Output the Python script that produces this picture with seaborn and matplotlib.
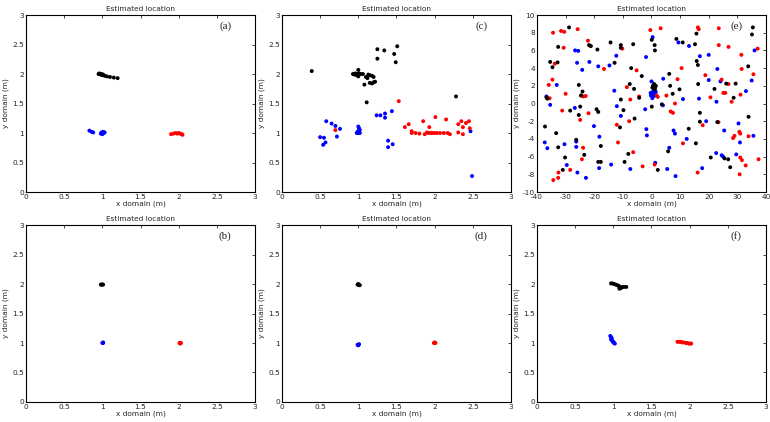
import pandas as pd
import matplotlib
matplotlib.use("Agg")
import matplotlib.pyplot as plt
import seaborn as sns
from matplotlib.ticker import FormatStrFormatter

sns.set_style("white")

# ---- data (x, y) in metres ----
a_black = [(0.95, 2.0), (0.96, 2.01), (0.97, 2.0), (0.98, 1.99), (0.99, 2.0), (1.0, 1.98),
           (1.01, 1.99), (1.03, 1.97), (1.06, 1.96), (1.1, 1.95), (1.15, 1.94), (1.2, 1.93)]
a_blue = [(0.83, 1.04), (0.86, 1.02), (0.88, 1.01), (0.98, 0.99), (0.99, 1.01), (1.0, 1.0),
          (1.01, 1.02), (1.02, 1.0), (1.0, 0.98), (1.03, 1.01)]
a_red = [(1.9, 0.98), (1.93, 0.99), (1.96, 1.0), (1.98, 0.99), (2.0, 1.0), (2.02, 0.99),
         (2.04, 0.98), (2.05, 0.97)]

b_black = [(0.98, 1.99), (0.99, 1.99), (1.0, 1.99), (1.01, 1.99)]
b_blue = [(1.0, 1.0), (1.01, 1.0), (1.01, 1.01)]
b_red = [(2.01, 1.0), (2.02, 1.0), (2.03, 1.0), (2.02, 0.99)]

c_black = [(0.39, 2.05), (0.93, 2.0), (0.95, 1.99), (0.96, 2.01), (0.97, 2.0), (0.98, 1.98),
           (0.99, 2.0), (1.0, 2.07), (1.0, 1.96), (1.01, 2.01), (1.03, 2.0), (1.06, 2.0),
           (1.1, 1.95), (1.12, 1.93), (1.13, 1.99), (1.15, 1.98), (1.18, 1.97), (1.2, 1.95),
           (1.08, 1.82), (1.15, 1.85), (1.18, 1.84), (1.2, 1.86), (1.22, 1.87), (1.11, 1.52),
           (1.25, 2.42), (1.25, 2.26), (1.34, 2.4), (1.47, 2.34), (1.49, 2.2), (1.51, 2.47),
           (2.28, 1.62)]
c_blue = [(0.5, 0.93), (0.55, 0.92), (0.57, 0.84), (0.54, 0.8), (0.58, 1.2), (0.65, 1.16),
          (0.7, 1.12), (0.76, 1.07), (0.72, 0.94), (1.0, 1.11), (1.01, 1.08), (1.02, 1.05),
          (0.99, 1.02), (0.98, 1.0), (1.0, 1.0), (1.02, 1.0), (1.0, 1.03), (1.24, 1.3),
          (1.29, 1.3), (1.35, 1.33), (1.35, 1.26), (1.44, 1.37), (1.39, 0.87), (1.39, 0.76),
          (1.45, 0.81), (2.47, 1.03), (2.49, 0.27)]
c_red = [(0.7, 1.05), (1.53, 1.54), (1.61, 1.1), (1.66, 1.15), (1.7, 1.03), (1.7, 1.0),
         (1.75, 1.0), (1.8, 0.99), (1.85, 1.2), (1.87, 0.98), (1.9, 1.01), (1.92, 1.0),
         (1.93, 1.1), (1.95, 1.0), (1.97, 1.0), (2.0, 1.0), (2.01, 1.27), (2.03, 1.0),
         (2.07, 1.0), (2.12, 1.0), (2.15, 1.23), (2.17, 1.0), (2.2, 0.98), (2.31, 1.15),
         (2.31, 1.01), (2.35, 1.2), (2.37, 1.1), (2.37, 0.98), (2.41, 1.17), (2.45, 1.2),
         (2.46, 1.08)]

d_black = [(0.99, 1.99), (1.0, 1.99), (1.01, 1.98), (1.02, 1.98), (1.0, 2.0)]
d_blue = [(0.99, 0.97), (1.0, 0.97), (1.01, 0.98), (1.0, 0.96)]
d_red = [(1.99, 1.0), (2.0, 1.0), (2.01, 1.0), (2.0, 1.01)]

e_black = [(-28.8, 8.6), (-32.6, 6.4), (-21.8, 6.6), (-21.2, 6.5), (-18.9, 6.1), (-14.3, 6.9),
           (-10.7, 6.6), (-10.7, 6.3), (-6.4, 6.7), (0.1, 7.2), (1.1, 6.6), (1.2, 6.0),
           (8.7, 7.3), (10.9, 6.9), (15.2, 6.7), (15.7, 7.9), (35.1, 7.8), (35.4, 8.6),
           (-35.4, 4.7), (-34.6, 4.1), (-32.8, 4.65), (-12.9, 4.6), (-7.1, 4.0), (-3.4, 3.1),
           (15.8, 4.8), (16.2, 4.35), (33.8, 4.2), (-36.7, 0.7), (-36.4, 0.55), (-25.4, 2.1),
           (-24.1, 1.35), (-24.6, 0.9), (-28.4, -0.8), (-24.9, -0.35), (-25.4, -1.3),
           (-19.2, -0.65), (-18.6, -0.95), (-10.7, 0.45), (-9.8, -0.75), (-7.6, 2.2),
           (-6.1, 1.65), (-4.3, 0.65), (-5.9, -1.7), (-11.0, -2.7), (0.1, -0.35),
           (6.2, 3.35), (6.5, 2.0), (7.4, 1.1), (9.8, 1.6), (3.6, -0.1), (16.3, 2.2),
           (22.0, 1.65), (26.1, 2.25), (29.4, 2.25), (28.7, 0.65), (33.9, -1.5), (16.9, -1.05),
           (16.9, -2.05), (23.0, -2.1), (13.0, -2.85), (15.5, -4.5), (5.8, -5.4),
           (-37.2, -2.6), (-33.3, -3.35), (-32.6, -4.95), (-30.2, -6.1), (-31.0, -7.5),
           (-23.5, -5.8), (-26.3, -4.1), (-17.7, -4.8), (-18.6, -6.6), (-17.7, -6.6),
           (-9.4, -6.6), (-8.1, -5.7), (2.2, -7.5), (20.7, -6.1), (25.5, -6.2), (26.8, -6.3),
           (27.5, -7.2), (0.5, 2.0), (1.0, 2.1), (1.3, 1.9), (0.8, 1.7), (1.5, 2.0),
           (1.2, 1.6), (0.9, 2.2), (0.3, 1.8), (1.1, 1.8)]
e_blue = [(0.4, 7.5), (9.4, 6.9), (13.1, 6.5), (20.0, 5.5), (16.9, 5.35), (36.0, 6.0),
          (-26.7, 6.0), (-25.6, 5.95), (-26.0, 4.6), (-21.7, 4.7), (-24.2, 3.8), (-18.6, 4.2),
          (-14.7, 4.3), (-12.3, 5.4), (-1.9, 5.25), (4.1, 2.8), (23.0, 3.9), (24.1, 2.5),
          (20.0, 2.65), (35.0, 2.6), (33.0, 1.4), (16.6, 0.55), (11.0, 0.5), (22.7, 0.2),
          (4.0, -0.2), (-33.1, 2.1), (-36.7, 0.8), (-35.4, -0.15), (-26.8, -0.5),
          (-13.0, 1.45), (-12.1, -0.3), (-10.7, -1.4), (-2.2, -0.65), (-1.8, -2.9),
          (-1.6, -3.6), (-20.1, -2.55), (-18.2, -3.75), (-30.4, -4.6), (-37.3, -4.4),
          (-36.4, -5.05), (-26.3, -4.3), (-26.3, -4.9), (-29.6, -6.95), (-25.9, -7.8),
          (-22.9, -8.4), (-18.3, -7.3), (-14.1, -6.9), (-7.4, -7.4), (1.3, -6.7),
          (5.5, -7.4), (8.4, -8.2), (12.3, -4.0), (7.7, -3.05), (8.2, -3.4), (6.2, -5.0),
          (19.1, -2.0), (17.7, -7.3), (22.6, -5.6), (24.5, -5.85), (25.0, -6.0),
          (25.4, -3.05), (29.6, -5.75), (30.4, -2.25), (30.9, -4.4), (35.6, -3.65),
          (0.0, 2.5), (0.0, 1.0), (0.5, 0.8), (-0.3, 1.2), (0.8, 1.1), (1.2, 0.9),
          (0.3, 0.6), (-0.2, 0.9), (1.5, 1.3), (0.6, 1.4)]
e_red = [(-34.4, 8.0), (-31.6, 8.2), (-30.5, 8.1), (-25.8, 8.4), (-22.2, 7.1), (-21.3, 6.5),
         (-30.7, 6.3), (-10.2, 6.2), (-0.4, 8.3), (3.2, 8.5), (16.2, 8.6), (16.5, 8.4),
         (23.5, 8.5), (23.5, 6.6), (26.9, 6.4), (31.4, 5.5), (37.1, 6.2), (31.5, 3.9),
         (35.6, 3.3), (-33.8, 4.5), (-34.6, 2.7), (-35.9, 2.1), (-35.6, 0.6), (-30.0, 1.1),
         (-31.2, -0.8), (-24.6, 0.9), (-23.8, 0.8), (-23.0, 0.85), (-22.0, -1.1),
         (-24.9, -1.85), (-16.6, 3.9), (-8.6, 1.85), (-5.2, 3.75), (-7.4, 0.45), (-7.8, -2.0),
         (-4.3, 0.8), (1.8, 0.9), (2.2, 0.75), (5.2, 0.9), (10.5, 4.0), (9.1, 2.75),
         (8.2, 0.0), (6.7, -0.9), (7.5, -1.05), (11.0, -4.5), (17.9, -2.45), (18.8, 3.2),
         (20.6, 0.7), (24.5, 2.7), (25.1, 1.2), (25.8, 1.2), (26.9, 2.2), (28.0, 0.2),
         (29.0, -3.65), (28.5, -3.9), (30.7, -3.2), (31.0, -3.4), (33.9, -3.7), (31.0, -6.1),
         (31.6, -6.4), (32.9, -7.0), (30.8, -8.0), (37.4, -6.3), (31.1, 1.0),
         (-34.3, -8.65), (-32.6, -8.4), (-32.5, -7.8), (-28.4, -7.5), (-24.3, -6.3),
         (-23.9, -5.0), (-11.7, -4.4), (-6.4, -5.5), (-3.1, -7.1), (1.1, -6.9),
         (-12.1, -2.4), (16.1, -7.8), (23.4, -2.1)]

f_black = [(0.97, 2.01), (0.99, 2.01), (1.01, 2.0), (1.03, 1.99), (1.05, 1.98), (1.07, 1.97),
           (1.08, 1.95), (1.08, 1.92), (1.1, 1.94), (1.12, 1.95), (1.14, 1.95), (1.17, 1.95),
           (1.1, 1.93)]
f_blue = [(0.96, 1.12), (0.97, 1.1), (0.98, 1.08), (0.98, 1.05), (0.99, 1.03), (1.0, 1.01),
          (1.01, 1.0), (1.02, 0.99), (0.97, 1.06), (1.0, 1.02)]
f_red = [(1.84, 1.02), (1.86, 1.02), (1.88, 1.02), (1.9, 1.01), (1.92, 1.01), (1.95, 1.0),
         (1.97, 1.0), (1.99, 0.99), (2.01, 0.99), (2.02, 0.99)]

panels = [
    ("(a)", a_black, a_blue, a_red),
    ("(c)", c_black, c_blue, c_red),
    ("(e)", e_black, e_blue, e_red),
    ("(b)", b_black, b_blue, b_red),
    ("(d)", d_black, d_blue, d_red),
    ("(f)", f_black, f_blue, f_red),
]

colors = {"blue": "#0000ff", "red": "#ff0000", "black": "#000000"}

fig = plt.figure(figsize=(7.7, 4.22), dpi=100)

lefts = [0.0338, 0.3662, 0.6974]
bottoms = [0.545, 0.0474]
w, h = 0.2974, 0.4194

for i, (tag, blk, blu, red) in enumerate(panels):
    ax = fig.add_axes([lefts[i % 3], bottoms[i // 3], w, h])

    rows = []
    for name, pts in (("blue", blu), ("red", red), ("black", blk)):
        for x, y in pts:
            rows.append({"x": x, "y": y, "target": name})
    df = pd.DataFrame(rows)

    sns.scatterplot(
        data=df, x="x", y="y", hue="target", palette=colors,
        s=8, linewidth=0, legend=False, ax=ax
    )

    if tag == "(e)":
        ax.set_xlim(-40, 40)
        ax.set_ylim(-10, 10)
        ax.set_xticks(range(-40, 41, 10))
        ax.set_yticks(range(-10, 11, 2))
    else:
        ax.set_xlim(0, 3)
        ax.set_ylim(0, 3)
        ax.set_xticks([0, 0.5, 1, 1.5, 2, 2.5, 3])
        ax.set_yticks([0, 0.5, 1, 1.5, 2, 2.5, 3])
    ax.xaxis.set_major_formatter(FormatStrFormatter("%g"))
    ax.yaxis.set_major_formatter(FormatStrFormatter("%g"))

    ax.tick_params(direction="in", length=2.5, width=0.6, labelsize=5.3,
                   top=True, right=True, pad=1.5)
    for sp in ax.spines.values():
        sp.set_linewidth(0.8)
        sp.set_color("black")

    ax.set_title("Estimated location", fontsize=5.3, pad=3)
    ax.set_xlabel("x domain (m)", fontsize=5.3, labelpad=0)
    ax.set_ylabel("y domain (m)", fontsize=5.3, labelpad=2)
    ax.text(0.87, 0.935, tag, transform=ax.transAxes, ha="center", va="center",
            fontsize=8, family="Liberation Serif")

fig.savefig("out.png", dpi=100)
